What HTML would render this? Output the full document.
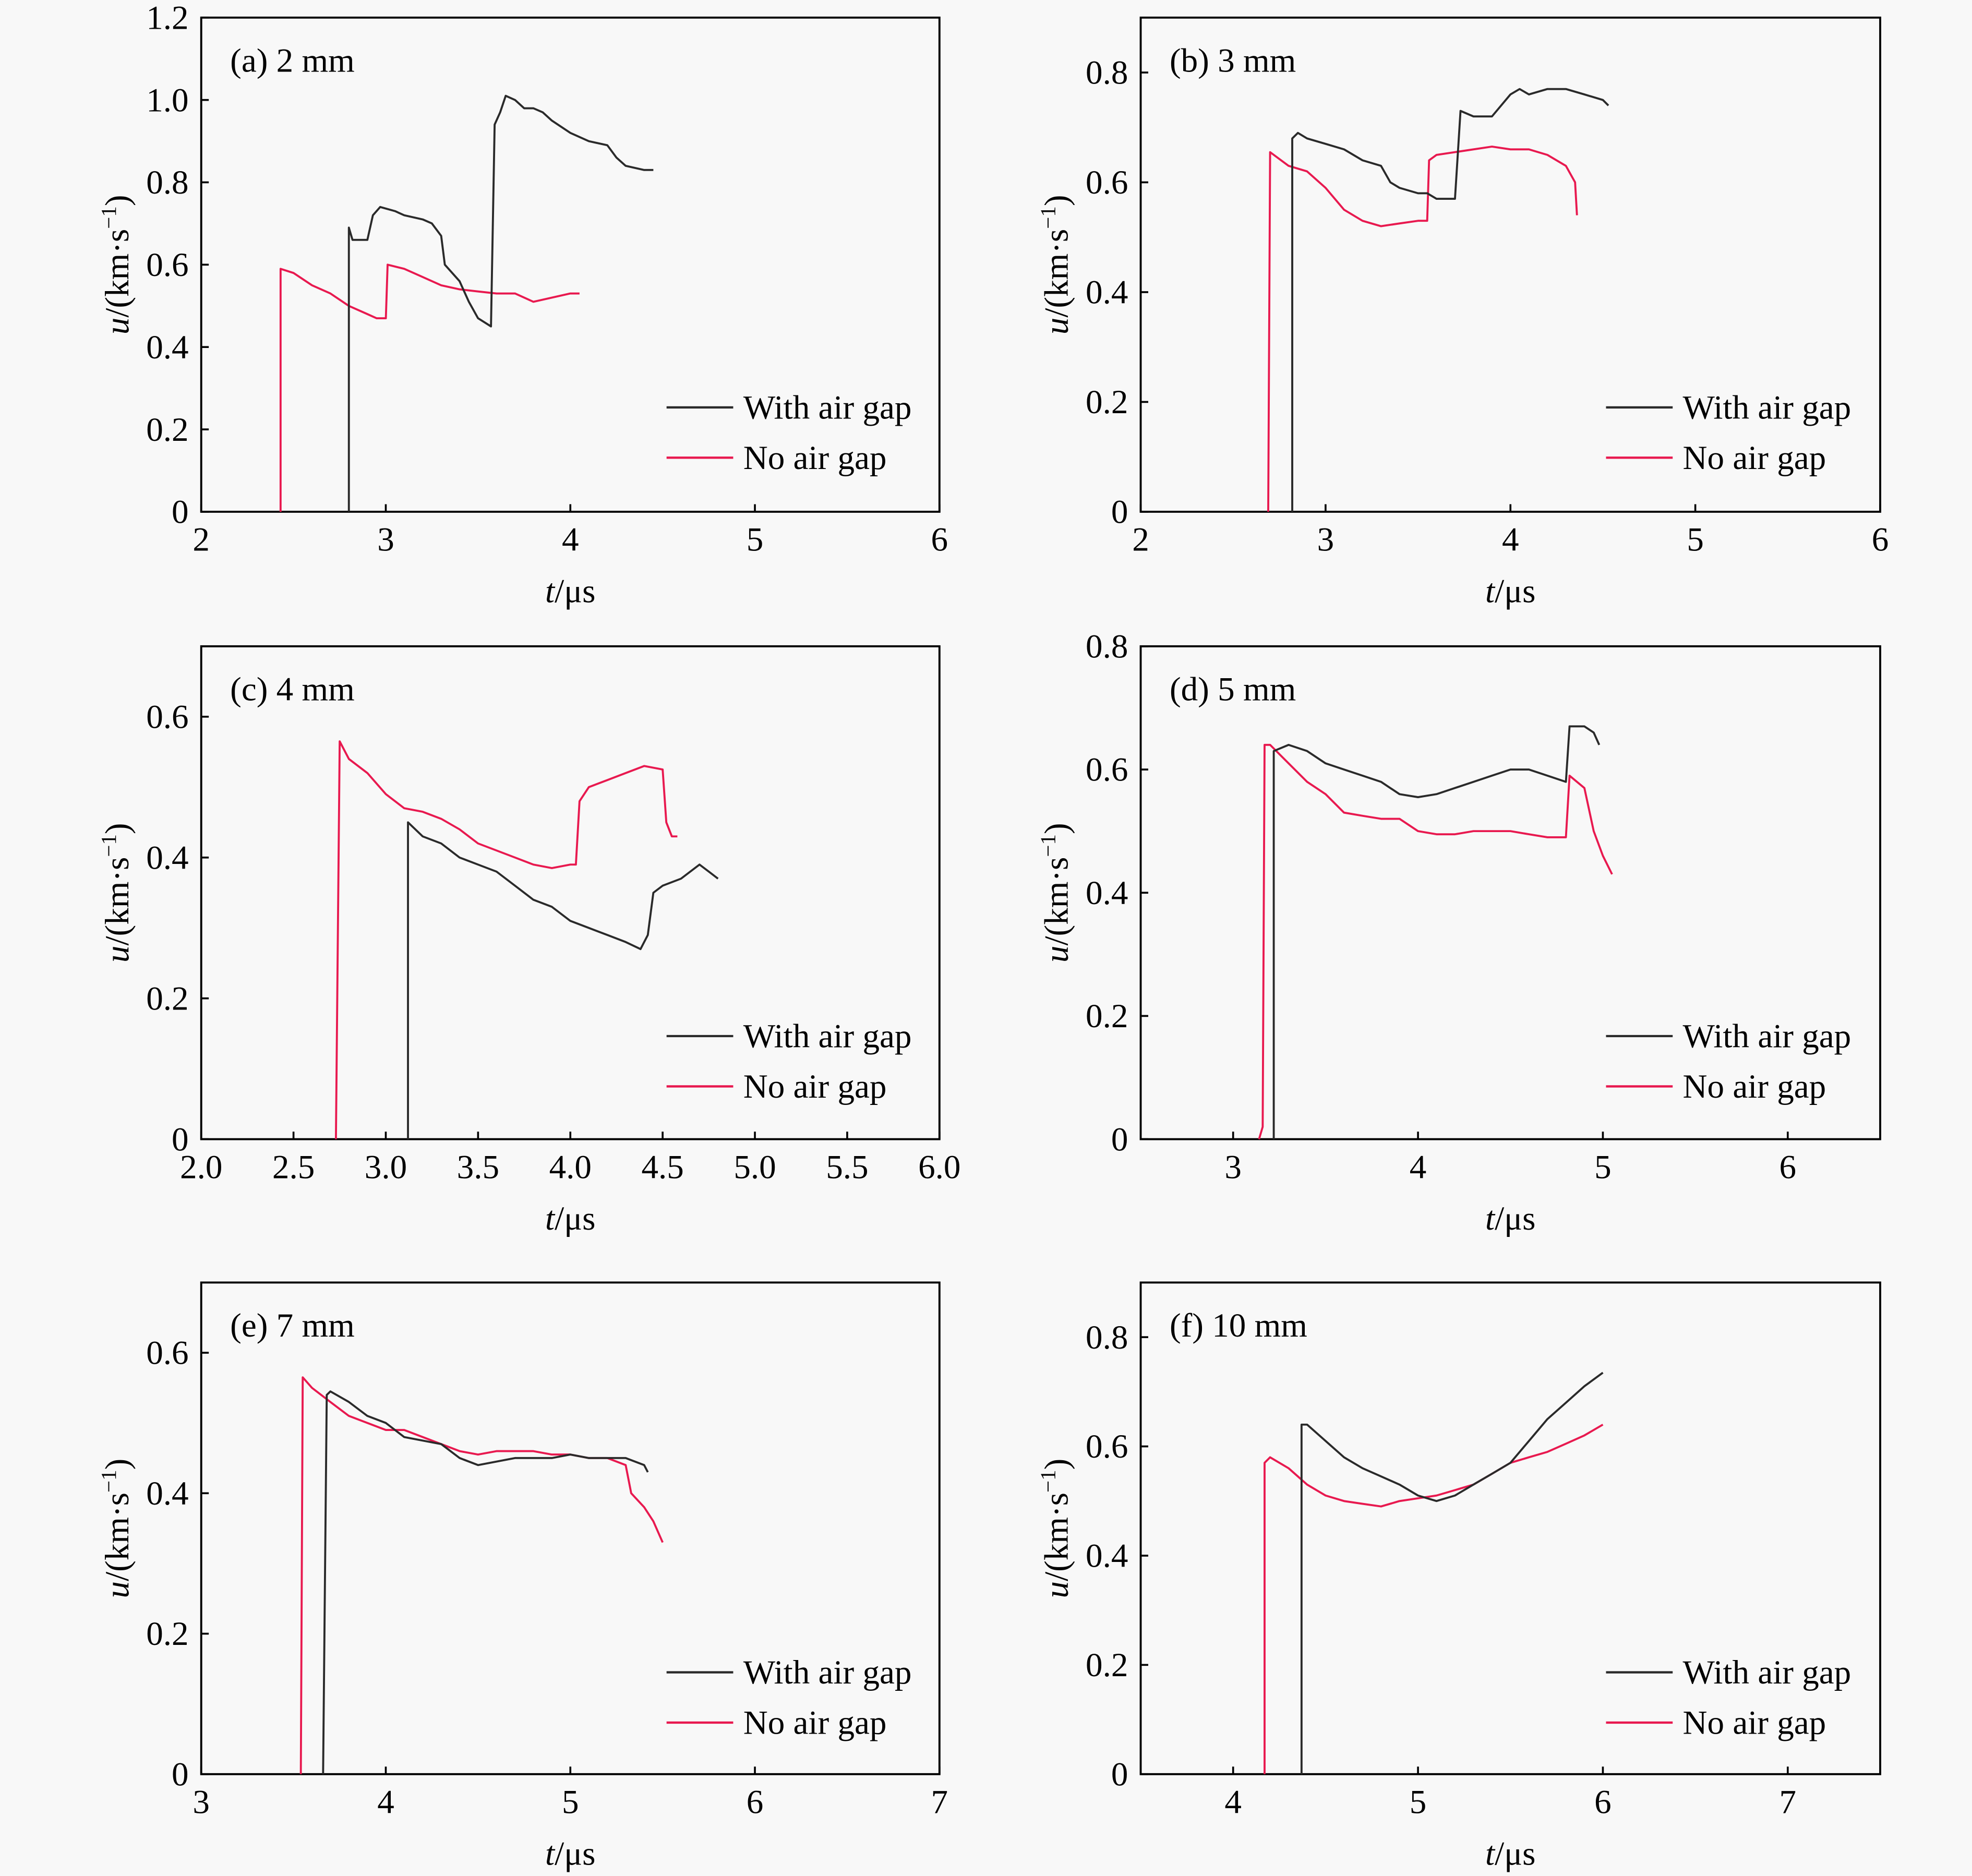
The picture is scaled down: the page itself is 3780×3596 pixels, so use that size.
<!DOCTYPE html>
<html><head><meta charset="utf-8"><style>
html,body{margin:0;padding:0;background:#f8f8f8;}
svg{display:block;}
text{font-family:"Liberation Serif",serif;fill:#000;}
</style></head><body>
<svg id="fig" xmlns="http://www.w3.org/2000/svg" width="3780" height="3596" viewBox="0 0 1568 1492" preserveAspectRatio="none">
<rect x="0" y="0" width="1568" height="1492" fill="#f8f8f8"/>
</svg>
<script>
// Panel (a) 2 mm
const aBlackT=[2.8,2.8,2.82,2.9,2.93,2.97,3.05,3.1,3.2,3.25,3.3,3.32,3.4,3.45,3.5,3.57,3.59,3.62,3.65,3.7,3.75,3.8,3.85,3.9,4.0,4.1,4.2,4.25,4.3,4.4,4.45];
const aBlackU=[0,0.69,0.66,0.66,0.72,0.74,0.73,0.72,0.71,0.70,0.67,0.60,0.56,0.51,0.47,0.45,0.94,0.97,1.01,1.0,0.98,0.98,0.97,0.95,0.92,0.90,0.89,0.86,0.84,0.83,0.83];
const aRedT=[2.43,2.43,2.5,2.6,2.7,2.8,2.9,2.95,3.0,3.01,3.1,3.2,3.3,3.4,3.5,3.6,3.7,3.8,3.9,4.0,4.05];
const aRedU=[0,0.59,0.58,0.55,0.53,0.50,0.48,0.47,0.47,0.60,0.59,0.57,0.55,0.54,0.535,0.53,0.53,0.51,0.52,0.53,0.53];
// Panel (b) 3 mm
const bBlackT=[2.82,2.82,2.85,2.9,3.0,3.1,3.2,3.3,3.35,3.4,3.5,3.55,3.6,3.7,3.73,3.8,3.9,4.0,4.05,4.1,4.2,4.3,4.4,4.5,4.53];
const bBlackU=[0,0.68,0.69,0.68,0.67,0.66,0.64,0.63,0.60,0.59,0.58,0.58,0.57,0.57,0.73,0.72,0.72,0.76,0.77,0.76,0.77,0.77,0.76,0.75,0.74];
const bRedT=[2.69,2.7,2.8,2.9,3.0,3.1,3.2,3.3,3.4,3.5,3.55,3.56,3.6,3.7,3.8,3.9,4.0,4.1,4.2,4.3,4.35,4.36];
const bRedU=[0,0.655,0.63,0.62,0.59,0.55,0.53,0.52,0.525,0.53,0.53,0.64,0.65,0.655,0.66,0.665,0.66,0.66,0.65,0.63,0.60,0.54];
// Panel (c) 4 mm
const cBlackT=[3.12,3.12,3.2,3.3,3.4,3.5,3.6,3.7,3.8,3.9,4.0,4.1,4.2,4.3,4.38,4.42,4.45,4.5,4.6,4.7,4.75,4.8];
const cBlackU=[0,0.45,0.43,0.42,0.40,0.39,0.38,0.36,0.34,0.33,0.31,0.30,0.29,0.28,0.27,0.29,0.35,0.36,0.37,0.39,0.38,0.37];
const cRedT=[2.73,2.75,2.8,2.9,3.0,3.1,3.2,3.3,3.4,3.5,3.6,3.7,3.8,3.9,4.0,4.03,4.05,4.1,4.2,4.3,4.4,4.5,4.52,4.55,4.58];
const cRedU=[0,0.565,0.54,0.52,0.49,0.47,0.465,0.455,0.44,0.42,0.41,0.40,0.39,0.385,0.39,0.39,0.48,0.50,0.51,0.52,0.53,0.525,0.45,0.43,0.43];
// Panel (d) 5 mm
const dBlackT=[3.22,3.22,3.3,3.4,3.5,3.6,3.7,3.8,3.9,4.0,4.1,4.2,4.3,4.4,4.5,4.6,4.7,4.8,4.82,4.9,4.95,4.98];
const dBlackU=[0,0.63,0.64,0.63,0.61,0.60,0.59,0.58,0.56,0.555,0.56,0.57,0.58,0.59,0.60,0.60,0.59,0.58,0.67,0.67,0.66,0.64];
const dRedT=[3.14,3.16,3.17,3.2,3.3,3.4,3.5,3.6,3.7,3.8,3.9,4.0,4.1,4.2,4.3,4.4,4.5,4.6,4.7,4.8,4.82,4.9,4.95,5.0,5.05];
const dRedU=[0,0.02,0.64,0.64,0.61,0.58,0.56,0.53,0.525,0.52,0.52,0.50,0.495,0.495,0.50,0.50,0.50,0.495,0.49,0.49,0.59,0.57,0.50,0.46,0.43];
// Panel (e) 7 mm
const eBlackT=[3.66,3.68,3.7,3.8,3.9,4.0,4.1,4.2,4.3,4.4,4.5,4.6,4.7,4.8,4.9,5.0,5.1,5.2,5.3,5.4,5.42];
const eBlackU=[0,0.54,0.545,0.53,0.51,0.50,0.48,0.475,0.47,0.45,0.44,0.445,0.45,0.45,0.45,0.455,0.45,0.45,0.45,0.44,0.43];
const eRedT=[3.54,3.55,3.6,3.7,3.8,3.9,4.0,4.1,4.2,4.3,4.4,4.5,4.6,4.7,4.8,4.9,5.0,5.1,5.2,5.3,5.33,5.4,5.45,5.5];
const eRedU=[0,0.565,0.55,0.53,0.51,0.50,0.49,0.49,0.48,0.47,0.46,0.455,0.46,0.46,0.46,0.455,0.455,0.45,0.45,0.44,0.40,0.38,0.36,0.33];
// Panel (f) 10 mm
const fBlackT=[4.37,4.37,4.4,4.5,4.6,4.7,4.8,4.9,5.0,5.1,5.2,5.3,5.4,5.5,5.6,5.7,5.8,5.9,6.0];
const fBlackU=[0,0.64,0.64,0.61,0.58,0.56,0.545,0.53,0.51,0.50,0.51,0.53,0.55,0.57,0.61,0.65,0.68,0.71,0.735];
const fRedT=[4.17,4.17,4.2,4.3,4.4,4.5,4.6,4.7,4.8,4.9,5.0,5.1,5.2,5.3,5.4,5.5,5.6,5.7,5.8,5.9,6.0];
const fRedU=[0,0.57,0.58,0.56,0.53,0.51,0.50,0.495,0.49,0.50,0.505,0.51,0.52,0.53,0.55,0.57,0.58,0.59,0.605,0.62,0.64];

const xTicksA=[2,3,4,5,6], xTickLabelsA=["2","3","4","5","6"];
const xTicksC=[2,2.5,3,3.5,4,4.5,5,5.5,6], xTickLabelsC=["2.0","2.5","3.0","3.5","4.0","4.5","5.0","5.5","6.0"];
const xTicksD=[3,4,5,6], xTickLabelsD=["3","4","5","6"];
const xTicksE=[3,4,5,6,7], xTickLabelsE=["3","4","5","6","7"];
const xTicksF=[4,5,6,7], xTickLabelsF=["4","5","6","7"];
const yTicksA=[0,0.2,0.4,0.6,0.8,1.0,1.2], yTickLabelsA=["0","0.2","0.4","0.6","0.8","1.0","1.2"];
const yTicks08=[0,0.2,0.4,0.6,0.8], yTickLabels08=["0","0.2","0.4","0.6","0.8"];
const yTicks06=[0,0.2,0.4,0.6], yTickLabels06=["0","0.2","0.4","0.6"];

const NS="http://www.w3.org/2000/svg";
const svg=document.getElementById('fig');
function mk(tag,attrs,parent){const e=document.createElementNS(NS,tag);for(const k in attrs)e.setAttribute(k,attrs[k]);(parent||svg).appendChild(e);return e;}
const FS=27;

const panels=[
 {id:'a',title:'(a) 2 mm',x0:160,y0:14,x1:747,y1:407,xmin:2,xmax:6,ymax:1.2,xt:xTicksA,xl:xTickLabelsA,yt:yTicksA,yl:yTickLabelsA,bt:aBlackT,bu:aBlackU,rt:aRedT,ru:aRedU},
 {id:'b',title:'(b) 3 mm',x0:907,y0:14,x1:1495,y1:407,xmin:2,xmax:6,ymax:0.9,xt:xTicksA,xl:xTickLabelsA,yt:yTicks08,yl:yTickLabels08,bt:bBlackT,bu:bBlackU,rt:bRedT,ru:bRedU},
 {id:'c',title:'(c) 4 mm',x0:160,y0:514,x1:747,y1:906,xmin:2,xmax:6,ymax:0.7,xt:xTicksC,xl:xTickLabelsC,yt:yTicks06,yl:yTickLabels06,bt:cBlackT,bu:cBlackU,rt:cRedT,ru:cRedU},
 {id:'d',title:'(d) 5 mm',x0:907,y0:514,x1:1495,y1:906,xmin:2.5,xmax:6.5,ymax:0.8,xt:xTicksD,xl:xTickLabelsD,yt:yTicks08,yl:yTickLabels08,bt:dBlackT,bu:dBlackU,rt:dRedT,ru:dRedU},
 {id:'e',title:'(e) 7 mm',x0:160,y0:1020,x1:747,y1:1411,xmin:3,xmax:7,ymax:0.7,xt:xTicksE,xl:xTickLabelsE,yt:yTicks06,yl:yTickLabels06,bt:eBlackT,bu:eBlackU,rt:eRedT,ru:eRedU},
 {id:'f',title:'(f) 10 mm',x0:907,y0:1020,x1:1495,y1:1411,xmin:3.5,xmax:7.5,ymax:0.9,xt:xTicksF,xl:xTickLabelsF,yt:yTicks08,yl:yTickLabels08,bt:fBlackT,bu:fBlackU,rt:fRedT,ru:fRedU}
];

panels.forEach(p=>{
 const g=mk('g',{});
 
 
 const X=t=>p.x0+(t-p.xmin)/(p.xmax-p.xmin)*(p.x1-p.x0);
 const Y=u=>p.y1-u/p.ymax*(p.y1-p.y0);
 const box=mk('rect',{x:p.x0,y:p.y0,width:p.x1-p.x0,height:p.y1-p.y0,fill:'none',stroke:'#000','stroke-width':1.6},g);
 
 
 p.xt.forEach((v,i)=>{
  const x=X(v);
  mk('line',{x1:x,y1:p.y1,x2:x,y2:p.y1-6,stroke:'#000','stroke-width':1.5},g);
  const t=mk('text',{x:x,y:p.y1+31,'font-size':FS,'text-anchor':'middle'},g);
  t.textContent=p.xl[i];
  
  
 });
 p.yt.forEach((v,i)=>{
  const y=Y(v);
  mk('line',{x1:p.x0,y1:y,x2:p.x0+6,y2:y,stroke:'#000','stroke-width':1.5},g);
  const t=mk('text',{x:p.x0-10,y:y+9,'font-size':FS,'text-anchor':'end'},g);
  t.textContent=p.yl[i];
  
  
 });
 const xt=mk('text',{x:(p.x0+p.x1)/2,y:p.y1+72,'font-size':FS,'text-anchor':'middle'},g);
 xt.innerHTML='<tspan font-style="italic">t</tspan>/μs';
 
 
 const cy=(p.y0+p.y1)/2, cx=p.x0-58;
 const yt=mk('text',{x:cx,y:cy,'font-size':FS,'text-anchor':'middle',transform:'rotate(-90 '+cx+' '+cy+')'},g);
 yt.innerHTML='<tspan font-style="italic">u</tspan>/(km·s<tspan dy="-10" font-size="17">−1</tspan><tspan dy="10">)</tspan>';
 
 
 const tt=mk('text',{x:p.x0+23,y:p.y0+43,'font-size':FS},g);
 tt.textContent=p.title;
 
 
 const pathOf=(ts,us)=>ts.map((t,i)=>(i?'L':'M')+X(t).toFixed(1)+' '+Y(us[i]).toFixed(1)).join(' ');
 const rl=mk('path',{d:pathOf(p.rt,p.ru),fill:'none',stroke:'#e8194f','stroke-width':1.6,'stroke-linejoin':'round'},g);
 
 
 const bl=mk('path',{d:pathOf(p.bt,p.bu),fill:'none',stroke:'#2a2a2a','stroke-width':1.6,'stroke-linejoin':'round'},g);
 
 
 const lx=p.x0+370, ly=p.y0+310;
 const lg=mk('g',{},g);
 
 
 mk('line',{x1:lx,y1:ly,x2:lx+53,y2:ly,stroke:'#2a2a2a','stroke-width':1.8},lg);
 const l1=mk('text',{x:lx+61,y:ly+9,'font-size':FS},lg);
 l1.textContent='With air gap';
 
 
 mk('line',{x1:lx,y1:ly+40,x2:lx+53,y2:ly+40,stroke:'#e8194f','stroke-width':1.8},lg);
 const l2=mk('text',{x:lx+61,y:ly+49,'font-size':FS},lg);
 l2.textContent='No air gap';
 
 
});
</script>
</body></html>
